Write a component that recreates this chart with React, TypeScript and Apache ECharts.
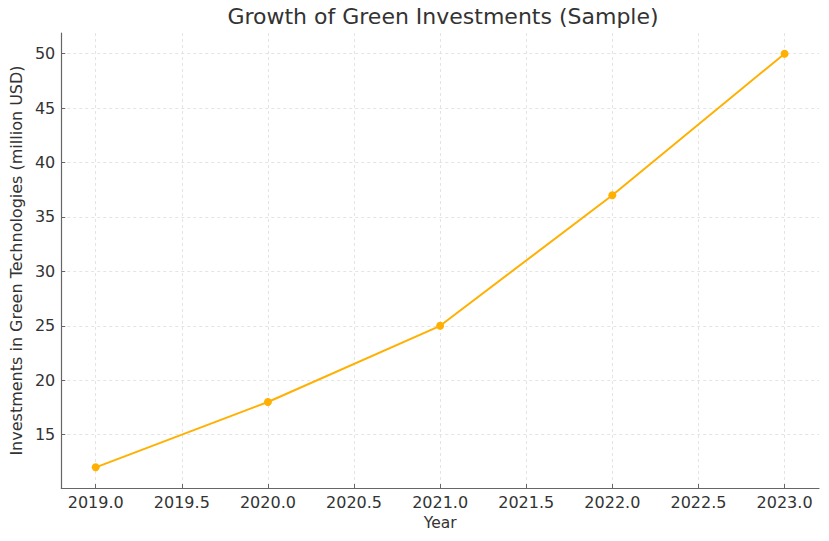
import React, { useEffect, useRef } from "react";
import * as echarts from "echarts";

const years = [2019, 2020, 2021, 2022, 2023];
const investments = [12, 18, 25, 37, 50];
const xTicks = [2019, 2019.5, 2020, 2020.5, 2021, 2021.5, 2022, 2022.5, 2023];
const yTicks = [15, 20, 25, 30, 35, 40, 45, 50];

const FONT = "DejaVu Sans";

export default function App() {
  const ref = useRef<HTMLDivElement>(null);
  useEffect(() => {
    const chart = echarts.init(ref.current!, null, { renderer: "svg" });
    chart.setOption({
      animation: false,
      backgroundColor: "#ffffff",
      title: {
        text: "Growth of Green Investments (Sample)",
        left: 438,
        textAlign: "center",
        top: 0,
        textStyle: { fontFamily: FONT, fontSize: 22, fontWeight: "normal", color: "#333333" },
      },
      grid: { left: 57, right: 10, top: 33, bottom: 53, containLabel: false },
      xAxis: {
        type: "value",
        min: 2018.8,
        max: 2023.2,
        name: "Year",
        nameLocation: "middle",
        nameGap: 25,
        nameTextStyle: { fontFamily: FONT, fontSize: 15.5, color: "#333333" },
        axisLine: { show: true, lineStyle: { color: "#666666", width: 1.2 } },
        axisTick: { show: true, inside: true, length: 4, customValues: xTicks, lineStyle: { color: "#666666" } },
        axisLabel: {
          customValues: xTicks,
          formatter: (v: number) => v.toFixed(1),
          fontFamily: FONT,
          fontSize: 16,
          color: "#333333",
          margin: 6,
        },
        splitLine: { show: true, lineStyle: { color: "#dddddd", type: [3, 3], width: 0.8 } },
      },
      yAxis: {
        type: "value",
        min: 10.1,
        max: 51.9,
        name: "Investments in Green Technologies (million USD)",
        nameLocation: "middle",
        nameGap: 33,
        nameTextStyle: { fontFamily: FONT, fontSize: 16, color: "#333333" },
        axisLine: { show: true, lineStyle: { color: "#666666", width: 1.2 } },
        axisTick: { show: true, inside: true, length: 4, customValues: yTicks, lineStyle: { color: "#666666" } },
        axisLabel: {
          customValues: yTicks,
          formatter: (v: number) => String(Math.round(v)),
          fontFamily: FONT,
          fontSize: 16,
          color: "#333333",
          margin: 6,
        },
        splitLine: { show: true, lineStyle: { color: "#dddddd", type: [3, 3], width: 0.8 } },
      },
      series: [
        {
          type: "line",
          data: years.map((y, i) => [y, investments[i]]),
          symbol: "circle",
          symbolSize: 8,
          itemStyle: { color: "#FFB000" },
          lineStyle: { color: "#FFB000", width: 2 },
        },
      ],
    });
    return () => chart.dispose();
  }, []);
  return <div ref={ref} style={{ width: 829, height: 541, position: "absolute", left: 0, top: 0 }} />;
}
